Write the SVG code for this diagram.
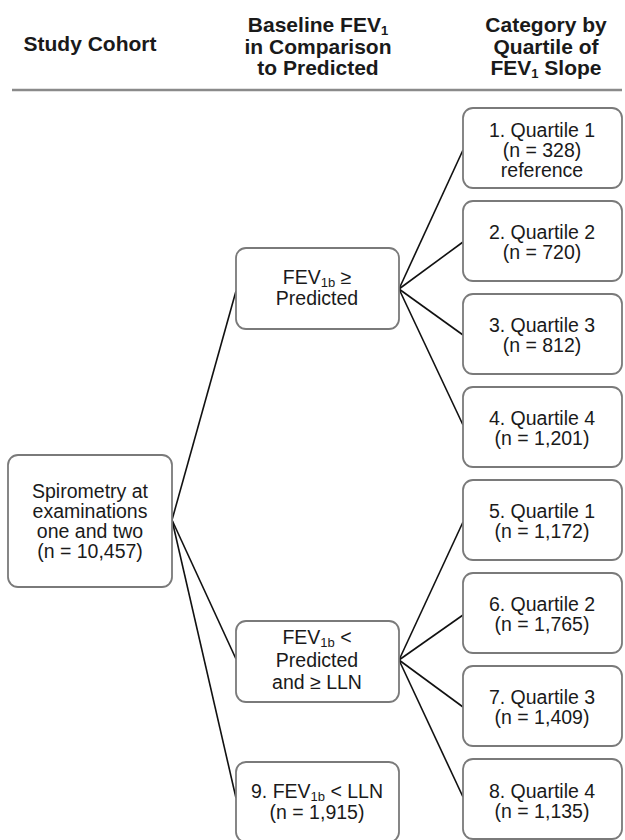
<svg xmlns="http://www.w3.org/2000/svg" width="625" height="840" viewBox="0 0 625 840">
<style>
.hd{font-family:"Liberation Sans",Arial,sans-serif;font-weight:bold;font-size:21px;fill:#1a1a1a;text-anchor:middle}
.tx{font-family:"Liberation Sans",Arial,sans-serif;font-size:19.5px;fill:#1a1a1a;text-anchor:middle}
.bx{fill:#fff;stroke:#7a7a7a;stroke-width:1.8}
.cn{stroke:#111;stroke-width:1.6;fill:none}
</style>
<rect width="625" height="840" fill="#fff"/>
<g id="header">
<text class="hd" x="90" y="51">Study Cohort</text>
<text class="hd" x="318" y="32">Baseline FEV<tspan font-size="13" dy="3">1</tspan></text>
<text class="hd" x="318" y="54">in Comparison</text>
<text class="hd" x="318" y="75">to Predicted</text>
<text class="hd" x="546" y="32">Category by</text>
<text class="hd" x="546" y="54">Quartile of</text>
<text class="hd" x="546" y="75">FEV<tspan font-size="13" dy="3">1</tspan><tspan dy="-3"> Slope</tspan></text>
<line x1="12" y1="90" x2="622" y2="90" stroke="#8a8a8a" stroke-width="2.5"/>
</g>
<g id="connectors">
<line class="cn" x1="172" y1="520" x2="236" y2="291"/>
<line class="cn" x1="172" y1="520" x2="236" y2="659"/>
<line class="cn" x1="172" y1="520" x2="236" y2="798"/>
<line class="cn" x1="399" y1="289" x2="463" y2="150"/>
<line class="cn" x1="399" y1="289" x2="463" y2="242"/>
<line class="cn" x1="399" y1="289" x2="463" y2="335"/>
<line class="cn" x1="399" y1="289" x2="463" y2="425"/>
<line class="cn" x1="399" y1="660" x2="463" y2="522"/>
<line class="cn" x1="399" y1="660" x2="463" y2="615"/>
<line class="cn" x1="399" y1="660" x2="463" y2="707"/>
<line class="cn" x1="399" y1="660" x2="463" y2="797"/>
</g>
<g id="n0">
<rect class="bx" x="8" y="455" width="164" height="132" rx="10"/>
<text class="tx" x="90" y="498">Spirometry at</text>
<text class="tx" x="90" y="518">examinations</text>
<text class="tx" x="90" y="538">one and two</text>
<text class="tx" x="90" y="558">(n = 10,457)</text>
</g>
<g id="nA">
<rect class="bx" x="236" y="248" width="163" height="81" rx="10"/>
<text class="tx" x="317" y="284">FEV<tspan font-size="13" dy="3">1b</tspan><tspan dy="-3"> ≥</tspan></text>
<text class="tx" x="317" y="305">Predicted</text>
</g>
<g id="nB">
<rect class="bx" x="236" y="621" width="163" height="81" rx="10"/>
<text class="tx" x="317" y="644">FEV<tspan font-size="13" dy="3">1b</tspan><tspan dy="-3"> &lt;</tspan></text>
<text class="tx" x="317" y="667">Predicted</text>
<text class="tx" x="317" y="689">and ≥ LLN</text>
</g>
<g id="n9">
<rect class="bx" x="236" y="762" width="163" height="80" rx="10"/>
<text class="tx" x="317" y="798">9. FEV<tspan font-size="13" dy="3">1b</tspan><tspan dy="-3"> &lt; LLN</tspan></text>
<text class="tx" x="317" y="819">(n = 1,915)</text>
</g>
<g id="n1">
<rect class="bx" x="463" y="108" width="159" height="80" rx="10"/>
<text class="tx" x="542" y="137">1. Quartile 1</text>
<text class="tx" x="542" y="157">(n = 328)</text>
<text class="tx" x="542" y="177">reference</text>
</g>
<g id="n2">
<rect class="bx" x="463" y="201" width="159" height="80" rx="10"/>
<text class="tx" x="542" y="239">2. Quartile 2</text>
<text class="tx" x="542" y="259">(n = 720)</text>
</g>
<g id="n3">
<rect class="bx" x="463" y="294" width="159" height="80" rx="10"/>
<text class="tx" x="542" y="332">3. Quartile 3</text>
<text class="tx" x="542" y="352">(n = 812)</text>
</g>
<g id="n4">
<rect class="bx" x="463" y="387" width="159" height="80" rx="10"/>
<text class="tx" x="542" y="425">4. Quartile 4</text>
<text class="tx" x="542" y="445">(n = 1,201)</text>
</g>
<g id="n5">
<rect class="bx" x="463" y="480" width="159" height="80" rx="10"/>
<text class="tx" x="542" y="518">5. Quartile 1</text>
<text class="tx" x="542" y="538">(n = 1,172)</text>
</g>
<g id="n6">
<rect class="bx" x="463" y="573" width="159" height="80" rx="10"/>
<text class="tx" x="542" y="611">6. Quartile 2</text>
<text class="tx" x="542" y="631">(n = 1,765)</text>
</g>
<g id="n7">
<rect class="bx" x="463" y="666" width="159" height="80" rx="10"/>
<text class="tx" x="542" y="704">7. Quartile 3</text>
<text class="tx" x="542" y="724">(n = 1,409)</text>
</g>
<g id="n8">
<rect class="bx" x="463" y="759" width="159" height="80" rx="10"/>
<text class="tx" x="542" y="798">8. Quartile 4</text>
<text class="tx" x="542" y="818">(n = 1,135)</text>
</g>
</svg>
